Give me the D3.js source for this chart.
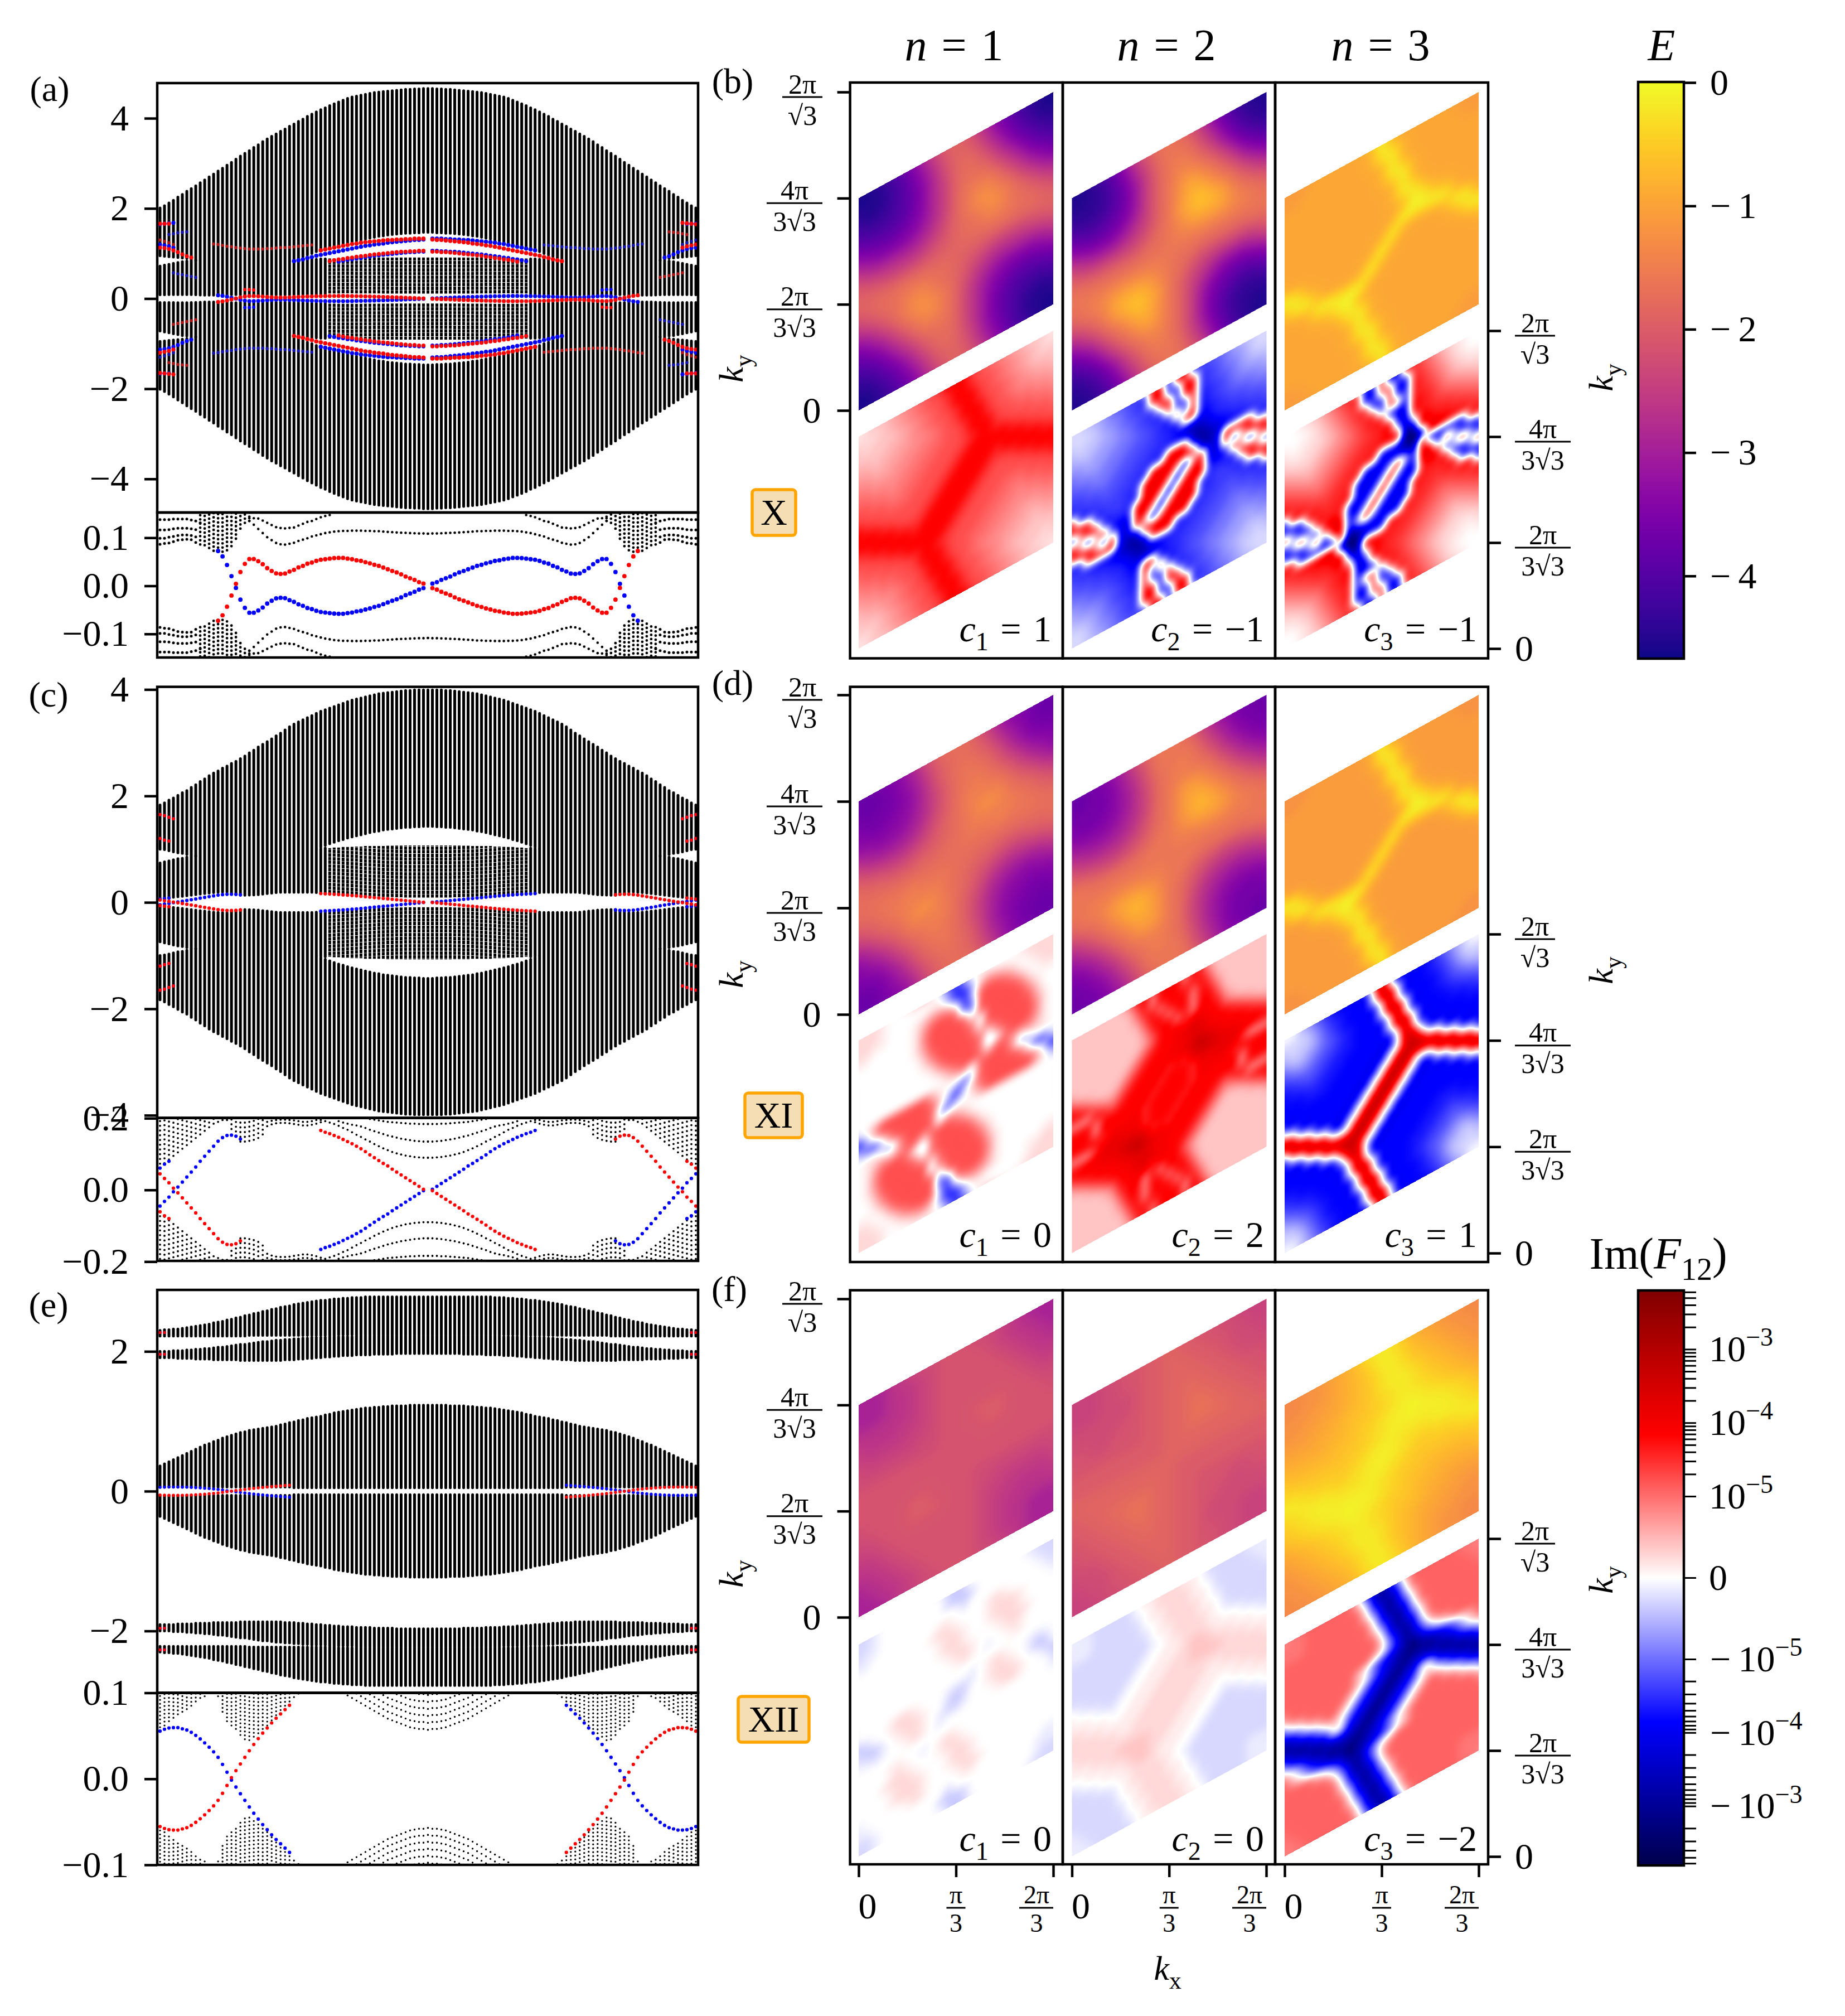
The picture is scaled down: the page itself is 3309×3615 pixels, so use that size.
<!DOCTYPE html>
<html>
<head>
<meta charset="utf-8">
<script src="https://d3js.org/d3.v7.min.js"></script>
<style>
  html, body { margin: 0; padding: 0; background: #fff; }
  text { font-family: "Liberation Serif", serif; fill: #000; }
</style>
</head>
<body>
<div id="chart"></div>
<script>
//DATA - BAND STRUCTURES
// every list runs from the left edge of the strip to its centre (column 0..60),
// the right half and the negative energies are the same spectrum reflected

const aTop = [2.01,2.06,2.12,2.18,2.25,2.31,2.38,2.44,2.5,2.57,2.63,2.7,2.76,2.83,2.89,2.96,3.02,3.09,3.16,3.22,3.28,3.35,3.41,3.48,3.54,3.6,3.65,3.71,3.76,3.82,3.87,3.93,3.98,4.04,4.09,4.14,4.19,4.23,4.28,4.32,4.36,4.4,4.44,4.47,4.49,4.51,4.53,4.55,4.57,4.58,4.59,4.6,4.61,4.62,4.63,4.64,4.64,4.65,4.65,4.66,4.66];
const aInner = [.087,.087,.088,.089,.09,.09,.09,.088,.085,.08,.075,.075,.075,.08,.085,.09,.09,.09,.09,.09,.09,.09,.09,.09,.088,.086,.085,.085,.086,.088,.09,.093,.096,.099,.102,.105,.108,.11,.112,.113,.114,.115,.115,.115,.114,.114,.113,.113,.112,.112,.111,.111,.11,.11,.11,.109,.109,.109,.109,.109,.109];
const aGapLo = [.72,.74,.76,.78,.8,.82,.83,.84,.85,null,null,null,null,null,null,null,null,null,null,null,null,null,null,null,null,null,null,null,null,null,.83,.84,.85,.86,.87,.87,.88,.88,.89,.89,.89,.9,.9,.9,.9,.9,.9,.91,.91,.91,.91,.91,.91,.91,.91,.91,.91,.91,.91,.91,.91];
const aGapHi = [.95,.94,.93,.92,.91,.9,.89,.87,.85,null,null,null,null,null,null,null,null,null,null,null,null,null,null,null,null,null,null,null,null,null,.84,.88,.93,.97,1.0,1.04,1.07,1.1,1.13,1.16,1.19,1.22,1.24,1.26,1.28,1.3,1.32,1.34,1.36,1.38,1.39,1.41,1.42,1.43,1.44,1.45,1.45,1.46,1.46,1.47,1.47];

const cTop = [1.83,1.87,1.92,1.96,2.01,2.06,2.1,2.16,2.21,2.27,2.32,2.38,2.43,2.47,2.52,2.56,2.61,2.65,2.7,2.75,2.81,2.86,2.92,2.97,3.02,3.07,3.13,3.18,3.24,3.3,3.35,3.39,3.43,3.47,3.51,3.55,3.59,3.62,3.65,3.68,3.71,3.74,3.77,3.8,3.82,3.84,3.86,3.88,3.9,3.92,3.93,3.94,3.95,3.96,3.97,3.98,3.98,3.99,3.99,3.99,3.99];
const cInner = [.06,.075,.085,.095,.105,.115,.125,.135,.145,.155,.165,.175,.185,.19,.195,.195,.17,.15,.135,.135,.137,.14,.145,.155,.165,.175,.185,.19,.19,.19,.19,.19,.19,.19,.19,.185,.18,.175,.17,.165,.16,.155,.15,.145,.14,.13,.125,.12,.115,.11,.105,.1,.1,.095,.095,.09,.09,.09,.09,.09,.09];
const cGapLo = [.74,.76,.78,.8,.82,.83,.85,.86,.87,null,null,null,null,null,null,null,null,null,null,null,null,null,null,null,null,null,null,null,null,null,null,null,null,null,null,1.0,1.01,1.02,1.02,1.03,1.03,1.04,1.04,1.05,1.05,1.05,1.06,1.06,1.06,1.06,1.06,1.07,1.07,1.07,1.07,1.07,1.07,1.07,1.07,1.07,1.07];
const cGapHi = [1.0,.99,.97,.95,.93,.92,.9,.88,.87,null,null,null,null,null,null,null,null,null,null,null,null,null,null,null,null,null,null,null,null,null,null,null,null,null,null,1.01,1.04,1.07,1.1,1.13,1.16,1.18,1.21,1.23,1.25,1.27,1.29,1.31,1.33,1.34,1.36,1.37,1.38,1.39,1.4,1.41,1.41,1.42,1.42,1.43,1.43];

const eTopHi = [2.3,2.31,2.31,2.32,2.32,2.33,2.34,2.35,2.36,2.37,2.38,2.39,2.41,2.42,2.43,2.45,2.46,2.48,2.49,2.51,2.52,2.54,2.55,2.57,2.58,2.6,2.61,2.63,2.64,2.65,2.67,2.68,2.69,2.7,2.71,2.72,2.73,2.73,2.74,2.75,2.75,2.76,2.76,2.77,2.77,2.77,2.78,2.78,2.78,2.78,2.78,2.78,2.78,2.78,2.78,2.78,2.78,2.78,2.78,2.78,2.78];
const eTopLo = [2.22,2.22,2.22,2.22,2.22,2.22,2.22,2.22,2.22,2.22,2.22,2.22,2.22,2.22,2.22,2.22,2.22,2.22,2.22,2.22,2.23,2.23,2.23,2.23,2.23,2.23,2.23,2.23,2.23,2.23,2.23,2.23,2.23,2.23,2.23,2.23,2.23,2.23,2.23,2.23,2.24,2.24,2.24,2.24,2.24,2.24,2.24,2.24,2.24,2.24,2.24,2.24,2.24,2.24,2.24,2.24,2.24,2.24,2.24,2.24,2.24];
const eSecHi = [2.0,2.0,2.0,2.01,2.01,2.01,2.02,2.02,2.03,2.03,2.04,2.04,2.05,2.06,2.06,2.07,2.08,2.09,2.1,2.1,2.11,2.12,2.13,2.14,2.14,2.15,2.16,2.16,2.17,2.17,2.18,2.18,2.19,2.19,2.2,2.2,2.2,2.2,2.21,2.21,2.21,2.21,2.21,2.21,2.22,2.22,2.22,2.22,2.22,2.22,2.22,2.22,2.22,2.22,2.22,2.22,2.22,2.22,2.22,2.22,2.22];
const eSecLo = [1.91,1.91,1.91,1.91,1.9,1.9,1.9,1.9,1.89,1.89,1.89,1.89,1.88,1.88,1.88,1.88,1.88,1.88,1.87,1.87,1.87,1.87,1.87,1.87,1.87,1.87,1.87,1.87,1.88,1.88,1.88,1.89,1.89,1.9,1.9,1.91,1.91,1.92,1.92,1.93,1.93,1.94,1.94,1.94,1.95,1.95,1.95,1.95,1.96,1.96,1.96,1.96,1.96,1.97,1.97,1.97,1.97,1.97,1.97,1.97,1.97];
const eMidHi = [.36,.39,.42,.45,.48,.51,.54,.57,.6,.63,.66,.68,.71,.73,.76,.78,.8,.82,.84,.85,.87,.88,.89,.9,.91,.92,.93,.95,.96,.98,.99,1.01,1.02,1.04,1.05,1.06,1.07,1.09,1.1,1.12,1.13,1.14,1.15,1.16,1.17,1.18,1.19,1.19,1.2,1.2,1.21,1.21,1.22,1.22,1.22,1.22,1.23,1.23,1.23,1.23,1.23];
const eMidLo = [.06,.06,.06,.06,.06,.06,.06,.06,.06,.06,.06,.06,.06,.06,.06,.06,.06,.06,.06,.06,.06,.06,.06,.06,.06,.06,.06,.06,.06,.06,.05,.05,.05,.05,.05,.05,.05,.05,.05,.05,.05,.05,.05,.05,.05,.05,.05,.05,.05,.05,.05,.05,.05,.05,.05,.05,.05,.05,.05,.05,.05];

// edge states near E = 0, first column given by the *Start constant
const aNearRedStart = 13;
const aNearRed = [-.0725,-.0612,-.0434,-.0202,.0043,.0287,.0457,.0558,.0558,.0512,.045,.0368,.031,.026,.0248,.0256,.0298,.0333,.0384,.0415,.0461,.0484,.0519,.0543,.0554,.0566,.0577,.0581,.0581,.0566,.0554,.0531,.0519,.0492,.0469,.0438,.0415,.038,.0345,.031,.0279,.024,.0194,.0159,.0124,.0078,.0047];
const cNearRedA = [.045,.032,.02,.005,-.008,-.022,-.036,-.05,-.064,-.08,-.094,-.108,-.122,-.136,-.146,-.152,-.153,-.15,-.142];
const cNearBlueStub = [.061,.072,.08];
const cNearRedBStart = 36;
const cNearRedB = [.166,.161,.157,.152,.147,.141,.135,.129,.122,.115,.107,.098,.09,.082,.074,.067,.058,.05,.042,.034,.026,.018,.01,.002];
const eNearBlue = [.0555,.0577,.0591,.0595,.0595,.0582,.0568,.0541,.0505,.0464,.0418,.0368,.0314,.025,.0168,.0077,-.0014,-.0095,-.0173,-.025,-.0327,-.04,-.0468,-.0532,-.0591,-.065,-.0705,-.0755,-.0805,-.0855];

// edge states inside the wide strip of (a), (c), (e)
const aArcRedOuter = [1.07,1.09,1.11,1.13,1.15,1.17,1.19,1.21,1.22,1.24,1.25,1.26,1.27,1.28,1.29,1.3,1.3,1.31,1.31,1.32,1.32,1.33,1.33,1.33];
const aArcBlueOuter = [.83,.85,.87,.9,.92,.95,.97,.99,1.01,1.03,1.05,1.07,1.09,1.11,1.13,1.15,1.17,1.18,1.2,1.21,1.22,1.24,1.25,1.26,1.27,1.28,1.29,1.3,1.3,1.31];
const aArcRedInner = [.83,.85,.87,.88,.9,.91,.93,.94,.95,.97,.98,.99,1.0,1.01,1.02,1.03,1.04,1.04,1.05,1.05,1.06,1.06];
const aArcBlueInner = [.82,.84,.86,.87,.89,.9,.92,.93,.95,.96,.97,.98,.99,1.0,1.01,1.02,1.03,1.03,1.04,1.04];
const aThinRed = [1.21,1.2,1.18,1.16,1.15,1.13,1.12,1.11,1.1,1.1,1.1,1.1,1.11,1.11,1.12,1.13,1.13,1.14,1.15,1.16,1.17,1.18,1.19];
const aEdgeRedTop = [1.66,1.66,1.66];
const aEdgeBlueTop = [1.65,1.66,1.67,1.68];
const aEdgeBlueMid = [1.42,1.44,1.46,1.47,1.48];
const aEdgeRedLow = [1.13,1.12,1.1,1.07,1.03,.98,.94,.91];
const aEdgeBlueLow = [1.2,1.18,1.16,1.13];
const aEdgeThinRed = [1.3,1.27,1.24,1.2];
const aEdgeThinBlue = [.57,.55,.53,.51,.49,.47];
const aStubRed = [.2,.2,.19];
const cEdgeUpper = [1.65,1.63,1.6,1.57];
const cEdgeLower = [1.2,1.17,1.15];
const eEdgeUpper = [2.27,2.27];
const eEdgeLower = [1.96,1.96];

// black states of the narrow strips
const aLowA = [.1376,.1376,.1376,.1388,.1388,.1388,.1388,.1368,.1349,.131];
const aLowB = [.1163,.1163,.1167,.1186,.1198,.1198,.1198,.1186,.1167];
const aLowC = [.0988,.0988,.1012,.1027,.1047,.1058,.1058,.1047,.1019];
const aLowD = [.0864,.088,.0891,.0919,.095,.0961,.0969,.0961,.0903];
const aLowE = [.1407,.1407,.1399,.1357,.131,.1264,.1221,.1202,.1194,.1205,.1213,.1252,.1291,.1329,.1349,.1388,.1426,.1453,.1473];
const aLowF = [.1349,.1271,.1182,.1097,.1012,.095,.0891,.0864,.0857,.0876,.0895,.0934,.0961,.0988,.1027,.105,.1074,.1097,.1112,.1128,.1136,.1143,.1143,.1147,.1147,.1147,.1143,.1143,.1136,.1136,.1128,.1121,.1116,.1109,.1105,.1101,.1097,.1093,.1089,.1089,.1085];
const aLowBulk = [.086,.0845,.0787,.0729,.0709,.0709,.074,.0826,.098,.119,.131,.135];
const cLowA = [.195,.192,.188,.184,.179,.173,.168,.161,.154,.148,.141,.135,.128,.122,.116,.111,.106,.102,.099,.096,.094,.092,.091,.09,.09];
const cLowB = [.192,.188,.185,.182,.18,.177,.173,.168,.164,.16,.156,.152,.149,.146,.143,.141,.139,.137,.136,.135,.135];
const cLowC = [.198,.196,.194,.192,.19,.189,.188,.187,.186,.185,.185,.184,.184,.184];
const cLowD = [.178,.183,.186,.187,.187,.186,.184,.182,.18,.18,.182,.185,.189];
const cLowE = [.19,.193,.195,.196,.196,.195,.194,.192,.19,.19,.192,.195,.198];
const eLowBulkLeft = [.0555,.062,.067,.071,.075,.078,.081,.085,.09,.094,.096];
const eLowBulkMiddle = [.096,.078,.067,.062,.058,.051,.046,.045,.049,.053,.058,.062,.068,.074,.08,.085,.09,.095,.099];
const eLowBulkCentre = [.1,.097,.094,.091,.088,.085,.082,.079,.076,.073,.07,.068,.066,.064,.062,.06,.059,.058,.058,.057];

//DATA - BRILLOUIN ZONE MAPS
// one character per sample, upper half of the cell from the top row down to the
// middle row, the lower half repeats it turned by 180 degrees.
// energy: 0..9a..z = colour position in the E bar. curvature: a..z red, A..Z blue, . white

const energyX1 = ["012469dhklkhd964210","111358bfjlljfb85311","212357aeilmliea7532","433457aehlmmlhea754","655568aehlnnnlhea86","987789behlnppnlheb9","dbaaabdfilnpqpnlifd","hfeeeefhjlmnppnmljh","kjihhhijklmmnnnmmlk","lllllllllllllllllll"];
const energyX2 = ["11247bgkmnmkgb74211","112369eimnnmie96321","222358chlnonlhc8532","433468chlnppnlhc864","765679chlnqsqnlhc97","b9889behlnqttqnlheb","gecccegilnrtvtrnlig","kihhhhikmnpsttspnmk","mmlllllmmnopqqqponm","nnnnnnnnnnnnnnnnnnn"];
const energyX3 = ["rrrssssstztsssssrrr","rrsssssstyytsssssrr","ssssssssstztsssssss","ssssssssstyytssssss","sssssssssstztssssss","sssssssssstyytsssss","ssssssssssstzyutsss","sssssssssstzyyzytss","ssssssssstztsssuzyu","zytssssstztssssstyz"];
const energyXI1 = ["7789adhkmmmkhda9877","7778acfjlmmljfca877","87889beilmnmlieb988","9889abehkmnnmkheba9","aa9aacehkmnonmkheca","dcbbcdfikmoooomkifd","hfeeefhjlmnpqpnmljh","kjihhijklmnoooonmlk","mllkkkllmmnnnonnnmm","mmmmmmmmmmmmmmmmmmm"];
const energyXI2 = ["7789beilnnnlieb9877","7788adgknnnnkgda887","8888acfjmnonmjfca88","9889acfimnoonmifca9","baaabdfimnqrqnmifdb","edccdegjmnqssqnmjge","igfffgikmnqsusqnmki","lkjiijklnnprssrpnnl","nnmmmmmnnnoopppoonn","nnnnnnnnnnnnnnnnnnn"];
const energyXI3 = ["qqqrrrrrszsrrrrrqqq","qqrrrrrrsyysrrrrrqq","rrrrrrrrrszsrrrrrrr","rrrrrrrrrsyysrrrrrr","rrrrrrrrrrszsrrrrrr","rrrrrrrrrrsyysrrrrr","rrrrrrrrrrrszytsrrr","rrrrrrrrrrszyyzysrr","rrrrrrrrrszsrrrtzyt","zysrrrrrszsrrrrrsyz"];
const energyXII1 = ["dddfghiijjjiihgfddd","dddffghijjjjihgffdd","dddffghijjjjjihgffd","fffffghijjjjjjihgff","gfffgghijjjjjjjihgg","hgggghhijjjjjjjjihh","ihhhhhiijjjkkkjjjii","iiiiiiiijjjjkkjjjji","jjjjjjjjjjjjjjjjjjj","jjjjjjjjjjjjjjjjjjj"];
const energyXII2 = ["hhhiijjkklkkjjiihhh","hhhiijjkkllkkjjiihh","hhhiiijkklllkkjiiih","iiiiiijkkllllkkjiii","iiiiijjkkllmllkkjji","jjiijjjkkllmmllkkjj","jjjjjjjkkllmnmllkkj","kkkkkkkkkllmmmmllkk","kkkkkkkkklllllllllk","lllllllllllllllllll"];
const energyXII3 = ["ppqqrstvxyxvtsrqqpp","ppqqrstuwyywutsrqqp","qqqrrstuvxyxvutsrqq","qqrrsstuvxyyxvutsrq","rrrsstuuvwxyxwvutsr","ssssttuvvwxyyxwvuts","tttttuuvwxyyzyyxwvu","vuuuuuvvwxyyyyyyxwv","wwvvvvvwxyyxxxyyyxw","yyxwwvwxyyyxwvwwxyy"];

const curvatureX1 = ["abccdefghijmmmjihgfedccba","bbbcdefghiikmmkiihgfedcbb","cbcccdefghijmmmjihgfedccc","ccccddefghiikmmkiihgfeddc","ddcddeeffghijmmmjihgffeed","eeddeeffgghiikmmkiihggffe","ffeeeffgghhiijmmmjiihhggf","ggffffgghhiiijkmmkjiiihhg","hhggfgghhiiijkmmmmmkjiiih","iihhgghhiiijkmmmmmmmmkjii","jiiihhhiiijkmmmmmkmmmmmkj","mkjiiiiiijkmmmmmkjjkmmmmm","mmmkjiiijkmmmmmkjiiijkmmm"];
const curvatureX2 = ["BBCDEGHIJKnnPnnKJIHGEDCBB","BBBCEFGIJKnnLLnnKJIGFECBB","CBCCDEGHIJKnnPnnKJIHGEDCC","DCCDEEFGIJKLnLLnLKJIGFEED","EEDEEFGGHIJKMnMnMKJIHGGFE","GFEEFGGHIIJKLNnnNLKJIIHGG","HGGFGGHIIJJKKMOQOMKKJJIIH","IIHGGHIIJJKKLMOSSOMLKKJJI","JJIIHIIJJKKLnnnRUSPNMLKKJ","KKJJIIJJKKnnnnnnSROnnnnLK","nLKKJJJKKnnnncPcnPPnPcnnn","nnnLKJJKKnnncPcnnOOMncPcn","PcnnMLKLnnncPcnnnLKLMnncP"];
const curvatureX3 = ["..abcegiklNNnNNlkigecba..","...abdfhjkNNiiNNkjhfdba..","a.aabcegiklNNnNNlkigecbaa","baabbcdfhjklNiiNlkjhfdcbb","cbbbcdefgiklmNONmlkigfedc","edccdefghijklnPPnlkjihgfe","gfedefghijkkln.V.nlkkjihg","ihgffghijkkllnqVVqnllkkji","kjihghijkkllNNNVYVrpnmlkk","lkkjiijkklNNNNNPVrPNNNNll","NmlkkjkklNNNNBnBNpoNnBNNN","NNNmlkkllNNNBnBNNoonNBnBN","nBNNmlllNNNBnBNNNlllmNNBn"];
const curvatureXI1 = ["bbba...aaa.FKF.aa...abbbb","bbba.....aaDLLDcfeca.abbb","bbaa...acefeALDhiihea.abb","aa.....aehiihIIiiiiifa.aa",".......afiiiihDhiiiiiea..",".......aeiiiiifBiiiiihc..","........chiiiihahiiiiiea.","........aeiiiiig.giiiifa.",".........afiiiigD.giihea.","..........aehiihchhececa.","...........aceAhiiieECaa.","Aaeiiiiiiea.BHBhiiiigBJHD","MDchiiiiihcCKCchiiiiihcDM"];
const curvatureXI2 = ["cccccccekmfmmmfmkeccccccc","cccccccchmfmmmkkmhccccccc","ccccccccekmfmmmfmkecccccc","ccccccccchmmfmmfmmhcccccc","cccccccccekmnfmfnmkeccccc","cccccccccehmmnkonmmhecccc","ccccccccehkmmnoponmmkhecc","eccccccehkmmmnnppnnmmmkhe","khecccehkmmmnnoqsqonnmmmk","mmkheehkmmmnkmkpqqpoonnmm","fffmkhkmmmnkmmmkonoookfff","mmmfmmmmmnkmmmmknnnnkmmmm","mmmfnmmmnkmmmmmknmmmnfmmm"];
const curvatureXI3 = ["..CEHJLMMMNcscNMMMLJHEC..","BBBCFIKLMMNAqqANMMLKIFCBB","CBCCEHJLMMMNcscNMMMLJHECC","ECCEFHIKLMMNAqqANMMLKIHFE","HFEFHIJKLMMMNcscNMMMLKJIH","JIHHIJKLLMMMNAqqANMMMLLKJ","LKJIJKLLMMMMMNcscNMMMMMLL","MLLKKLLMMMMMNOAqqAONMMMMM","MMMLLLMMMMMNOAcpspcAONMMM","MMMMMMMMMMNOAcqsqqsqcAONM","NNMMMMMMMNOAcqsqcAcqsqcAN","cANNMMMMNNAcqsqcAOOAcqsqc","sqcANNMNNAcqsqcANNMNNAcqs"];
const curvatureXII1 = ["BBA........BCB.......ABBB","BBA........BCCB.......ABB","BAA..........B.........AA","AA........aa....aba.....A",".........abba...abbba....","..........abba..abbba....","..........abba...abbba...","...........abba...aba....","............aba.A..aa....",".........................","..............A.aba..ABAA","....abba...ABBA.abba.ACCB","CB..abbba..BCB..abbba..BC"];
const curvatureXII2 = ["AAABBBBB.aabbbaa.BBBBBAAA","AAABBBBBA.abbbba.ABBBBBAA","AAABBBBBB.aabbbaa.BBBBBBA","BBBBBBBBBA.abbbba.ABBBBBB","BBBBBBBBBB.aabbbaa.BBBBBB","BBBBBBBBBBA.abbbba.ABBBBB","BBBBBBBBBA..aabbbaa..ABBB","BBBBBBBBA..aaabccbaaa..AB",".ABBBBBA..aaabbcccbbaaa..","a..ABBA..aaabbbccccbbbaaa","aaa..A..aaabbbbbbbbbbbbba","bbaaa..aaabbbbbbbaabbbbbb","bbbbaaaaabbbbbbbaaaaabbbb"];
const curvatureXII3 = ["fgghhhhhhdGOVOGdhhhhhhggf","ggghhhhhhh.MSSM.hhhhhhhgg","ggghhhhhhhdGOVOGdhhhhhhhg","hhhhhhhhhhh.MSSM.hhhhhhhh","hhhhhhhhhhhdGOVOGdhhhhhhh","hhhhhhhhhhhh.MSSM.hhhhhhh","hhhhhhhhhhhhdGOVOGdhhhhhh","hhhhhhhhhhhd.GMTTMG.dhhhh","hhhhhhhhhd.GLORTXTROLG.dh","dhhhhhhhhd.GMPSVTTVSPMG.d","G.dhhhhhd.GMOSVSPNPSVSOMG","OMG.dhhd.GMOSVSOM..MOSVSO","VSOMG.d.GMOSVSOMG.d.GMOSV"];

//DATA - LABELS AND TICKS
const chernLabels = [["1","1"],["2","\u22121"],["3","\u22121"],["1","0"],["2","2"],["3","1"],["1","0"],["2","0"],["3","\u22122"]];
const bandTitles = ["n = 1","n = 2","n = 3"];
const phaseNames = ["X","XI","XII"];
const letterLabels = ["(a)","(c)","(e)","(b)","(d)","(f)"];
const energyTicks = [0,-1,-2,-3,-4];
const curvatureDecades = [-3,-4,-5];
const curvatureMinorFactors = [2,3,4,5,6,7,8,9];

//CONSTANTS AND GLOBALS
const width = 3309, height = 3615;
const kxMax = 2 * Math.PI / 3, kyMax = 2 * Math.PI / Math.sqrt(3),
  kyCell = 4 * Math.PI / (3 * Math.sqrt(3)), kyShift = 2 * Math.PI / (3 * Math.sqrt(3));
const frameWidth = 4.5, tickLength = 23, tickSize = 66;

const svg = d3.select("#chart").append("svg")
  .attr("width", width).attr("height", height).attr("viewBox", [0, 0, width, height])
  .style("display", "block");

const seismic = d3.scaleLinear()
  .domain([0, .25, .5, .75, 1])
  .range(["#00004c", "#0000ff", "#ffffff", "#ff0000", "#800000"])
  .clamp(true);
const energyColor = d3.scaleSequential(d3.interpolatePlasma).domain([-4.67, 0]);
const curvatureColor = d3.scaleSequential(seismic).domain([-1, 1]);

// colour lookup so that the heat maps need not call the scale for every pixel
function lookup(scale, lo, hi) {
  const toIndex = d3.scaleLinear().domain([lo, hi]).range([0, 1023]).clamp(true);
  const table = d3.range(1024).map(k => d3.rgb(scale(toIndex.invert(k))));
  return v => table[Math.round(toIndex(v))];
}
const energyLookup = lookup(energyColor, -4.67, 0);
const curvatureLookup = lookup(curvatureColor, -1, 1);

const levelChars = "0123456789abcdefghijklmnopqrstuvwxyz";
const decodeEnergy = ch => -4.67 * (1 - levelChars.indexOf(ch) / 35);
function decodeCurvature(ch) {
  if (ch === ".") return 0;
  if (ch >= "a") return (ch.charCodeAt(0) - 96) / 26;
  return -(ch.charCodeAt(0) - 64) / 26;
}

//TEXT HELPERS
function label(g, x, y, str, opts = {}) {
  const size = opts.size || tickSize;
  return g.append("text")
    .attr("x", x).attr("y", y + size * .33)
    .attr("text-anchor", opts.anchor || "middle")
    .attr("font-size", size)
    .attr("font-style", opts.italic ? "italic" : "normal")
    .text(str);
}

// parts: [text, "i" italic | "sub" | "sup" | undefined]
function mathLabel(g, x, y, parts, opts = {}) {
  const size = opts.size || tickSize;
  const text = g.append("text")
    .attr("x", x).attr("y", y + size * .33)
    .attr("text-anchor", opts.anchor || "middle")
    .attr("font-size", size);
  if (opts.rotate) text.attr("transform", `rotate(${opts.rotate} ${x} ${y})`);
  if (opts.wordSpacing) text.attr("word-spacing", opts.wordSpacing);
  let shift = 0;
  parts.forEach(([str, kind]) => {
    const target = kind === "sub" ? size * .25 : kind === "sup" ? -size * .42 : 0;
    text.append("tspan")
      .attr("dy", target - shift)
      .attr("font-size", kind === "sub" || kind === "sup" ? size * .7 : size)
      .attr("font-style", kind === "i" ? "italic" : "normal")
      .text(str);
    shift = target;
  });
  return text;
}

// fraction below a tick; numY / ruleY / denY are measured from the tick
function fraction(g, cx, y, num, den, ruleWidth) {
  label(g, cx, y - 14, num, { size: 50 });
  g.append("line").attr("x1", cx - ruleWidth / 2).attr("x2", cx + ruleWidth / 2)
    .attr("y1", y + 9).attr("y2", y + 9).attr("stroke", "#000").attr("stroke-width", 3);
  label(g, cx, y + 42, den, { size: 50 });
}

function styleAxis(g, tickWidth) {
  g.select(".domain").remove();
  g.selectAll(".tick line").attr("stroke", "#000").attr("stroke-width", tickWidth || frameWidth);
  g.selectAll(".tick text").attr("font-size", tickSize).attr("font-family", '"Liberation Serif", serif').attr("fill", "#000");
}

function frame(g, x0, y0, x1, y1) {
  g.append("rect").attr("x", x0).attr("y", y0).attr("width", x1 - x0).attr("height", y1 - y0)
    .attr("fill", "none").attr("stroke", "#000").attr("stroke-width", frameWidth);
}

//BAND STRUCTURE PANELS
const bandX = d3.scaleLinear().domain([0, 120]).range([287, 1248]);
const swapColor = { red: "blue", blue: "red", "#b01414": "#1414b0", "#1414b0": "#b01414", "#000": "#000" };

// one list of values starting at a column becomes the four reflected copies of it
function reflect(values, start, color, r) {
  const out = [];
  values.forEach((e, k) => {
    const i = start + k;
    out.push({ i, e, color, r }, { i: 120 - i, e, color: swapColor[color], r },
      { i, e: -e, color: swapColor[color], r }, { i: 120 - i, e: -e, color, r });
  });
  return out;
}

function columnSegments(segmentsAt) {
  const out = [];
  d3.range(121).forEach(i => {
    const half = i <= 60 ? i : 120 - i;
    segmentsAt(half).forEach(([lo, hi, dashed]) => {
      out.push({ i, lo, hi, dashed }, { i, lo: -lo, hi: -hi, dashed });
    });
  });
  return out;
}

function bandPanel(cfg) {
  const g = svg.append("g");
  const y = d3.scaleLinear().domain(cfg.mainDomain).range([cfg.split, cfg.top]);
  const yLow = d3.scaleLinear().domain(cfg.lowDomain).range([cfg.bottom, cfg.split]);
  const clipId = "clip" + cfg.id;
  svg.append("clipPath").attr("id", clipId).append("rect")
    .attr("x", 282).attr("y", cfg.split).attr("width", 970).attr("height", cfg.bottom - cfg.split);

  g.append("g").selectAll("line").data(columnSegments(cfg.segments)).join("line")
    .attr("x1", d => bandX(d.i)).attr("x2", d => bandX(d.i))
    .attr("y1", d => y(d.lo)).attr("y2", d => y(d.hi))
    .attr("stroke", "#000").attr("stroke-width", 5)
    .attr("stroke-linecap", d => d.dashed ? "butt" : "round")
    .attr("stroke-dasharray", d => d.dashed ? "6 .6" : null);

  const mainDots = cfg.mainStates.slice().sort((a, b) => (a.color === "red") - (b.color === "red"));
  g.append("g").selectAll("circle").data(mainDots).join("circle")
    .attr("cx", d => bandX(d.i)).attr("cy", d => y(d.e)).attr("r", d => d.r).attr("fill", d => d.color);

  const low = g.append("g").attr("clip-path", `url(#${clipId})`);
  low.append("g").selectAll("line").data(cfg.bulk).join("line")
    .attr("x1", d => bandX(d.i)).attr("x2", d => bandX(d.i))
    .attr("y1", d => yLow(d.e)).attr("y2", d => d.e > 0 ? cfg.split - 5 : cfg.bottom + 5)
    .attr("stroke", "#000").attr("stroke-width", cfg.bulkWidth)
    .attr("stroke-linecap", "round").attr("stroke-dasharray", d => `0 ${d.gap}`);
  low.append("g").selectAll("circle.black").data(cfg.lowBlack).join("circle")
    .attr("cx", d => bandX(d.i)).attr("cy", d => yLow(d.e)).attr("r", d => d.r).attr("fill", "#000");
  const lowDots = cfg.lowStates.slice().sort((a, b) => (a.color === "red") - (b.color === "red"));
  low.append("g").selectAll("circle").data(lowDots).join("circle")
    .attr("cx", d => bandX(d.i)).attr("cy", d => yLow(d.e)).attr("r", d => d.r).attr("fill", d => d.color);

  frame(g, 282, cfg.top, 1252, cfg.split);
  frame(g, 282, cfg.split, 1252, cfg.bottom);

  g.append("g").attr("transform", "translate(282,0)")
    .call(d3.axisLeft(y).tickValues(cfg.mainTicks).tickSize(tickLength).tickPadding(28)
      .tickFormat(d => d < 0 ? "\u2212" + (-d) : "" + d))
    .call(styleAxis);
  g.append("g").attr("transform", "translate(282,0)")
    .call(d3.axisLeft(yLow).tickValues(cfg.lowTicks).tickSize(tickLength).tickPadding(28)
      .tickFormat(d => d < 0 ? "\u2212" + (-d).toFixed(1) : d.toFixed(1)))
    .call(styleAxis);
}

const aNearRedStates = reflect(aNearRed, aNearRedStart, "red", 3.9);

bandPanel({
  id: "a", top: 149, split: 919, bottom: 1179,
  mainDomain: [-4.745, 4.78], lowDomain: [-.149, .1525],
  mainTicks: [4, 2, 0, -2, -4], lowTicks: [.1, 0, -.1],
  segments: h => aGapLo[h] === null ? [[aInner[h], aTop[h], false]]
    : [[aInner[h], aGapLo[h], h >= 38], [aGapHi[h], aTop[h], false]],
  mainStates: [].concat(
    reflect(aNearRed, aNearRedStart, "red", 3.6),
    reflect(aStubRed, 19, "red", 3),
    reflect(aArcBlueOuter, 30, "blue", 3.8), reflect(aArcRedOuter, 36, "red", 3.8),
    reflect(aArcBlueInner, 40, "blue", 3.6), reflect(aArcRedInner, 38, "red", 3.6),
    reflect(aThinRed, 12, "#b01414", 2.8),
    reflect(aEdgeBlueTop, 0, "blue", 3.6), reflect(aEdgeRedTop, 0, "red", 3.6),
    reflect(aEdgeBlueMid, 2, "#1414b0", 2.8),
    reflect(aEdgeBlueLow, 0, "blue", 3.6), reflect(aEdgeRedLow, 0, "red", 3.6),
    reflect(aEdgeThinRed, 0, "#b01414", 2.8), reflect(aEdgeThinBlue, 3, "#1414b0", 2.8)),
  bulkWidth: 4.8,
  bulk: reflect(aLowBulk, 9, "#000", 0).map(d => ({ i: d.i, e: d.e, gap: 7.5 })),
  lowBlack: [].concat(reflect(aLowA, 0, "#000", 2.5), reflect(aLowB, 0, "#000", 2.5),
    reflect(aLowC, 0, "#000", 2.5), reflect(aLowD, 0, "#000", 2.5),
    reflect(aLowE, 20, "#000", 2.3), reflect(aLowF, 20, "#000", 2.3)),
  lowStates: aNearRedStates
});

bandPanel({
  id: "c", top: 1231.6, split: 2004.6, bottom: 2261,
  mainDomain: [-4.05, 4.05], lowDomain: [-.198, .201],
  mainTicks: [4, 2, 0, -2, -4], lowTicks: [.2, 0, -.2],
  segments: h => cGapLo[h] === null ? [[cInner[h], cTop[h], false]]
    : [[cInner[h], cGapLo[h], h >= 38], [cGapHi[h], cTop[h], false]],
  mainStates: [].concat(
    reflect(cNearRedA, 0, "red", 3.1), reflect(cNearBlueStub, 0, "blue", 3.1),
    reflect(cNearRedB, cNearRedBStart, "red", 3.1),
    reflect(cEdgeUpper, 0, "blue", 3), reflect(cEdgeLower, 0, "blue", 3),
    reflect(cEdgeUpper, 0, "red", 3), reflect(cEdgeLower, 0, "red", 3)),
  bulkWidth: 3.8,
  bulk: reflect(cInner.slice(0, 24), 0, "#000", 0).map(d => ({ i: d.i, e: d.e, gap: 8.5 })),
  lowBlack: [].concat(reflect(cLowA, 36, "#000", 1.9), reflect(cLowB, 40, "#000", 1.9),
    reflect(cLowC, 47, "#000", 1.9), reflect(cLowD, 24, "#000", 1.9), reflect(cLowE, 24, "#000", 1.9)),
  lowStates: [].concat(reflect(cNearRedA, 0, "red", 3.1), reflect(cNearBlueStub, 0, "blue", 3.1),
    reflect(cNearRedB, cNearRedBStart, "red", 3.1))
});

bandPanel({
  id: "e", top: 2313, split: 3035.5, bottom: 3344,
  mainDomain: [-2.885, 2.88], lowDomain: [-.1, .1],
  mainTicks: [2, 0, -2], lowTicks: [.1, 0, -.1],
  segments: h => [[eMidLo[h], eMidHi[h], false], [eSecLo[h], eSecHi[h], false], [eTopLo[h], eTopHi[h], false]],
  mainStates: [].concat(
    reflect(eNearBlue, 0, "blue", 2.8),
    reflect(eEdgeUpper, 0, "blue", 2.6), reflect(eEdgeLower, 0, "blue", 2.6),
    reflect(eEdgeUpper, 0, "red", 2.6), reflect(eEdgeLower, 0, "red", 2.6)),
  bulkWidth: 3.4,
  bulk: [].concat(
    reflect(eLowBulkLeft, 0, "#000", 0).map(d => ({ i: d.i, e: d.e, gap: 7 })),
    reflect(eLowBulkMiddle, 13, "#000", 0).map(d => ({ i: d.i, e: d.e, gap: 7 })),
    reflect(eLowBulkCentre, 41, "#000", 0).map(d => ({ i: d.i, e: d.e, gap: 12.5 }))),
  lowBlack: [],
  lowStates: reflect(eNearBlue, 0, "blue", 3.1)
});

//BRILLOUIN ZONE PANELS
function fullGrid(rows, decode) {
  const lower = rows.slice(0, -1).reverse().map(r => r.split("").reverse().join(""));
  return rows.concat(lower).map(r => r.split("").map(decode));
}

// smooth shading between the samples, the cell repeats so indices wrap round
function splineWeights(t) {
  const s = 1 - t;
  return [s * s * s / 6, (3 * t * t * t - 6 * t * t + 4) / 6, (-3 * t * t * t + 3 * t * t + 3 * t + 1) / 6, t * t * t / 6];
}

function heatMap(g, rows, decode, colorOf, x, y) {
  const grid = fullGrid(rows, decode);
  const nr = grid.length - 1, nc = grid[0].length - 1;
  const left = x(0), top = y(kyMax);
  const w = Math.ceil(x(kxMax) - left), h = Math.ceil(y(0) - top);
  const canvas = document.createElement("canvas");
  canvas.width = w; canvas.height = h;
  const ctx = canvas.getContext("2d");
  const img = ctx.createImageData(w, h);
  for (let py = 0; py < h; py++) {
    for (let px = 0; px < w; px++) {
      const u = x.invert(left + px + .5) / kxMax;
      const v = (y.invert(top + py + .5) - u * kyShift) / kyCell;
      if (u < 0 || u > 1 || v < 0 || v > 1) continue;
      const fx = u * nc, fy = (1 - v) * nr;
      const cx = Math.floor(fx), cy = Math.floor(fy);
      const wx = splineWeights(fx - cx), wy = splineWeights(fy - cy);
      let val = 0;
      for (let b = 0; b < 4; b++) {
        const rowValues = grid[(cy + b - 1 + nr) % nr];
        for (let a = 0; a < 4; a++) val += wy[b] * wx[a] * rowValues[(cx + a - 1 + nc) % nc];
      }
      const c = colorOf(val), k = 4 * (py * w + px);
      img.data[k] = c.r; img.data[k + 1] = c.g; img.data[k + 2] = c.b; img.data[k + 3] = 255;
    }
  }
  ctx.putImageData(img, 0, 0);
  g.append("image").attr("x", left).attr("y", top).attr("width", w).attr("height", h)
    .attr("href", canvas.toDataURL());
}

const columnFrames = [[1524.6, 1906], [1906, 2287], [2287, 2669]];
const columnKx = [[1540, 1889], [1922.5, 2271], [2304, 2652]];
const zonePanels = [
  { top: 148, bottom: 1180.5, left: [736, 165], right: [1163, 593],
    energy: [energyX1, energyX2, energyX3], curvature: [curvatureX1, curvatureX2, curvatureX3], chern: chernLabels.slice(0, 3), chernY: 1128, kyY: 661, kyRightY: 677 },
  { top: 1231.6, bottom: 2263, left: [1819, 1246], right: [2247, 1675],
    energy: [energyXI1, energyXI2, energyXI3], curvature: [curvatureXI1, curvatureXI2, curvatureXI3], chern: chernLabels.slice(3, 6), chernY: 2214, kyY: 1747, kyRightY: 1740 },
  { top: 2313.6, bottom: 3343, left: [2900, 2329], right: [3329, 2759],
    energy: [energyXII1, energyXII2, energyXII3], curvature: [curvatureXII1, curvatureXII2, curvatureXII3], chern: chernLabels.slice(6, 9), chernY: 3297, kyY: 2822, kyRightY: 2833 }
];
const kyTicks = [0, kyShift, kyCell, kyMax];
const fractionTicks = [[kyShift, "2\u03c0", "3\u221a3", 100], [kyCell, "4\u03c0", "3\u221a3", 100], [kyMax, "2\u03c0", "\u221a3", 72]];

zonePanels.forEach((p, row) => {
  const g = svg.append("g");
  const yLeft = d3.scaleLinear().domain([0, kyMax]).range(p.left);
  const yRight = d3.scaleLinear().domain([0, kyMax]).range(p.right);
  columnFrames.forEach(([x0, x1], col) => {
    const x = d3.scaleLinear().domain([0, kxMax]).range(columnKx[col]);
    heatMap(g, p.energy[col], decodeEnergy, energyLookup, x, yLeft);
    heatMap(g, p.curvature[col], decodeCurvature, curvatureLookup, x, yRight);
    frame(g, x0, p.top, x1, p.bottom);
    mathLabel(g, x1 - 20, p.chernY, [["c", "i"], [p.chern[col][0], "sub"], [" = " + p.chern[col][1]]], { anchor: "end", size: 66, wordSpacing: 5 });

    if (row === 2) {
      g.append("g").attr("transform", `translate(0,${p.bottom})`)
        .call(d3.axisBottom(x).tickValues([0, kxMax / 2, kxMax]).tickSize(tickLength).tickFormat(""))
        .call(styleAxis);
      const ax = columnKx[col];
      label(g, ax[0] + 16, 3418, "0");
      const mid = x(kxMax / 2), end = ax[1];
      label(g, mid, 3398, "\u03c0", { size: 46 });
      g.append("line").attr("x1", mid - 17).attr("x2", mid + 17).attr("y1", 3421).attr("y2", 3421).attr("stroke", "#000").attr("stroke-width", 3);
      label(g, mid, 3449, "3", { size: 46 });
      label(g, end - 30, 3398, "2\u03c0", { size: 46 });
      g.append("line").attr("x1", end - 61).attr("x2", end).attr("y1", 3421).attr("y2", 3421).attr("stroke", "#000").attr("stroke-width", 3);
      label(g, end - 30, 3449, "3", { size: 46 });
    }
  });

  g.append("g").attr("transform", `translate(${columnFrames[0][0]},0)`)
    .call(d3.axisLeft(yLeft).tickValues(kyTicks).tickSize(tickLength).tickFormat("")).call(styleAxis);
  g.append("g").attr("transform", `translate(${columnFrames[2][1]},0)`)
    .call(d3.axisRight(yRight).tickValues(kyTicks).tickSize(tickLength).tickFormat("")).call(styleAxis);

  label(g, 1456, yLeft(0), "0");
  label(g, 2717, yRight(0), "0", { anchor: "start" });
  fractionTicks.forEach(([k, num, den, w]) => {
    fraction(g, 1475 - w / 2, yLeft(k), num, den, w);
    fraction(g, 2717 + w / 2, yRight(k), num, den, w);
  });

  mathLabel(g, 1312, p.kyY, [["k", "i"], ["y", "sub"]], { rotate: -90, size: 62 });
  mathLabel(g, 2872, p.kyRightY, [["k", "i"], ["y", "sub"]], { rotate: -90, size: 62 });
});

// n = 1, 2, 3 and k_x
const titleX = [1711, 2092, 2476];
bandTitles.forEach((t, k) => {
  const parts = t.split(" ");
  mathLabel(svg, titleX[k], 82, [[parts[0], "i"], [" " + parts[1] + " " + parts[2]]], { size: 80, wordSpacing: 6 });
});
mathLabel(svg, 2094, 3530, [["k", "i"], ["x", "sub"]], { size: 62 });

//PANEL LETTERS AND PHASE BOXES
const letterX = [89, 87, 87, 1314, 1314, 1308];
const letterY = [160, 1246, 2340, 146, 1225, 2312];
letterLabels.forEach((t, k) => label(svg, letterX[k], letterY[k], t, { size: 64 }));

const boxX = [[1349, 1427], [1336, 1439], [1324, 1451]];
const boxY = [[878, 960], [1960, 2040], [3042, 3124]];
phaseNames.forEach((t, k) => {
  svg.append("rect").attr("x", boxX[k][0]).attr("y", boxY[k][0])
    .attr("width", boxX[k][1] - boxX[k][0]).attr("height", boxY[k][1] - boxY[k][0])
    .attr("rx", 6).attr("fill", "#f5deb3").attr("stroke", "#ffa500").attr("stroke-width", 5.5);
  label(svg, (boxX[k][0] + boxX[k][1]) / 2, (boxY[k][0] + boxY[k][1]) / 2, t, { size: 66 });
});

//COLOUR BARS
const barLeft = 2938, barRight = 3020;

// energy bar
const energyBarY = d3.scaleLinear().domain([-4.67, 0]).range([1181, 148]);
const energyBar = svg.append("g");
energyBar.append("g").selectAll("rect").data(d3.range(148, 1181, 2)).join("rect")
  .attr("x", barLeft).attr("width", barRight - barLeft).attr("y", d => d).attr("height", 3)
  .attr("fill", d => energyColor(energyBarY.invert(d)));
frame(energyBar, barLeft, 147, barRight, 1181);
energyBar.append("g").attr("transform", `translate(${barRight},0)`)
  .call(d3.axisRight(energyBarY).tickValues(energyTicks).tickSize(22).tickFormat(""))
  .call(styleAxis);
energyTicks.forEach(v => label(energyBar, 3067, energyBarY(v), v < 0 ? "\u2212\u2009" + (-v) : "" + v, { anchor: "start" }));
mathLabel(energyBar, 2980, 82, [["E", "i"]], { size: 80 });

// curvature bar: linear up to 1e-5, logarithmic beyond, positions in colour coordinate -1..1
const curvatureLinear = d3.scaleLinear().domain([0, 1e-5]).range([0, 146 / 515]);
const curvatureLog = d3.scaleLog().domain([1e-5, 6.3e-3]).range([146 / 515, 1]);
const curvatureNorm = v => Math.sign(v) * (Math.abs(v) <= 1e-5 ? curvatureLinear(Math.abs(v)) : curvatureLog(Math.abs(v)));
const curvatureBarY = d3.scaleLinear().domain([-1, 1]).range([3344, 2314]);
const curvatureBar = svg.append("g");
curvatureBar.append("g").selectAll("rect").data(d3.range(2314, 3344, 2)).join("rect")
  .attr("x", barLeft).attr("width", barRight - barLeft).attr("y", d => d).attr("height", 3)
  .attr("fill", d => curvatureColor(curvatureBarY.invert(d)));
frame(curvatureBar, barLeft, 2314, barRight, 3345);

const majorValues = curvatureDecades.map(e => Math.pow(10, e));
const minorValues = [];
[-5, -4, -3].forEach(e => curvatureMinorFactors.forEach(f => {
  const v = f * Math.pow(10, e);
  if (v < 6.3e-3) minorValues.push(v);
}));
const tickNorms = [0].concat(majorValues, majorValues.map(v => -v), minorValues, minorValues.map(v => -v)).map(curvatureNorm);
curvatureBar.append("g").attr("transform", `translate(${barRight},0)`)
  .call(d3.axisRight(curvatureBarY).tickValues(tickNorms).tickSize(22).tickFormat(""))
  .call(g => styleAxis(g, 3));
label(curvatureBar, 3065, curvatureBarY(0), "0", { anchor: "start" });
curvatureDecades.forEach((e, k) => {
  const exponent = "\u2212" + (-e);
  const v = majorValues[k];
  mathLabel(curvatureBar, 3065, curvatureBarY(curvatureNorm(v)), [["10"], [exponent, "sup"]], { anchor: "start" });
  mathLabel(curvatureBar, 3067, curvatureBarY(curvatureNorm(-v)), [["\u2212\u200910"], [exponent, "sup"]], { anchor: "start" });
});
mathLabel(curvatureBar, 2974, 2249, [["Im("], ["F", "i"], ["12", "sub"], [")"]], { size: 80 });
</script>
</body>
</html>
